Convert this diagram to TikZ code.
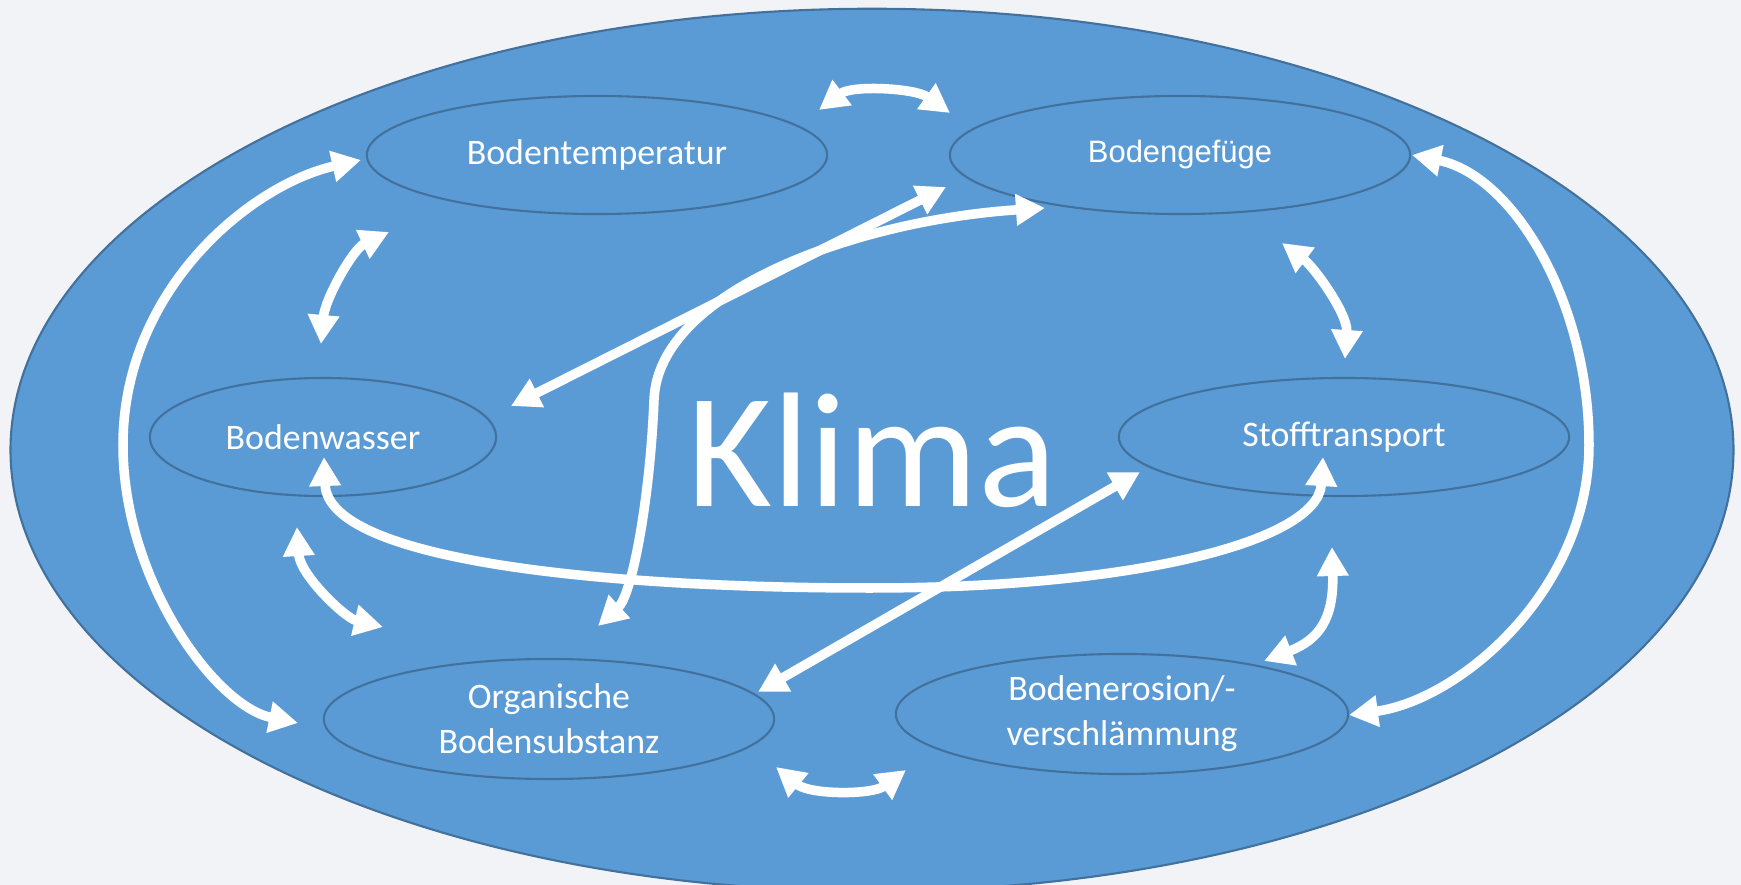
\documentclass[tikz,border=0pt]{standalone}
\usepackage{fontspec}
\setmainfont{Carlito}
\newfontfamily\arialfont{Liberation Sans}
\usetikzlibrary{calc,arrows.meta,shapes.geometric}
\tikzset{>={Triangle[width=3mm,length=2.9mm]}}
\definecolor{bgcol}{HTML}{F2F3F7}
\definecolor{ovalblue}{HTML}{5B9BD5}
\definecolor{ovalline}{HTML}{41719C}
\tikzstyle{oval} = [ellipse, draw=ovalline, line width=0.6pt, fill=ovalblue, text=white, inner sep=0pt, align=center, font=\fontsize{10.2}{12.8}\selectfont]
\tikzstyle{link} = [draw=white, line width=0.95mm, <->]

\begin{document}
\begin{tikzpicture}[x=0.01cm, y=-0.01cm]

    \path[use as bounding box, fill=bgcol] (0,0) rectangle (1741,885);

    \node[oval, minimum width=17.22cm, minimum height=8.82cm, font=\fontsize{46.5}{50}\selectfont] (klima) at (872,450) {Klima};

    \node[oval, minimum width=4.6cm, minimum height=1.18cm] (btemp) at (597,155) {Bodentemperatur};
    \node[oval, minimum width=4.6cm, minimum height=1.18cm, font=\arialfont\fontsize{8.8}{11}\selectfont] (bgef) at (1180,155) {Bodengefüge};
    \node[oval, minimum width=3.46cm, minimum height=1.18cm] (bwas) at (323,437) {Bodenwasser};
    \node[oval, minimum width=4.5cm, minimum height=1.18cm] (stoff) at (1344,437) {Stofftransport};
    \node[oval, minimum width=4.5cm, minimum height=1.2cm] (orgs) at (549,719) {Organische\\Bodensubstanz};
    \node[oval, minimum width=4.52cm, minimum height=1.2cm] (beros) at (1122,714) {Bodenerosion/-\\verschlämmung};

    % neighbours
    \draw[link] ($(btemp)+(222,-45)$) .. controls +(33,-25) and +(-35,-25) .. ($(bgef)+(-230,-42)$);
    \draw[link] ($(bgef)+(102,88)$) .. controls +(32,24) and +(3,-45) .. ($(stoff)+(1,-78)$);
    \draw[link] ($(stoff)+(-12,110)$) .. controls +(2,73) and +(54,-21) .. ($(beros)+(142,-53)$);
    \draw[link] ($(orgs)+(227,48)$) .. controls +(34,28) and +(-34,25) .. ($(beros)+(-216,56)$);
    \draw[link] ($(bwas)+(-26,90)$) .. controls +(3,48) and +(-38,-9) .. ($(orgs)+(-166,-92)$);
    \draw[link] ($(bwas)+(-2,-93)$) .. controls +(4,-45) and +(-36,17) .. ($(btemp)+(-208,77)$);

    % outer arcs
    \draw[link] ($(btemp)+(-236,5)$) .. controls +(-111,25) and +(0,-155) .. (123,445)
        .. controls +(0,135) and +(-83,-17) .. ($(orgs)+(-251,4)$);
    \draw[link] ($(bgef)+(232,0)$) .. controls +(100,20) and +(0,-145) .. (1589,445)
        .. controls +(0,145) and +(111,-15) .. ($(beros)+(227,1)$);

    % across
    \draw[link] ($(bwas)+(188,-31)$) -- ($(bgef)+(-234,32)$);
    \draw[link] ($(stoff)+(-204,35)$) -- ($(orgs)+(209,-27)$);
    \draw[link] ($(orgs)+(49,-93)$) .. controls +(34,-31) and +(-4,100) .. (654,400)
        .. controls +(4,-110) and +(-185,12) .. ($(bgef)+(-135,53)$);
    \draw[link] ($(bwas)+(1,20)$) .. controls +(4,103) and +(-270,0) .. (870,588)
        .. controls +(270,0) and +(-5,83) .. ($(stoff)+(-21,20)$);

\end{tikzpicture}
\end{document}
